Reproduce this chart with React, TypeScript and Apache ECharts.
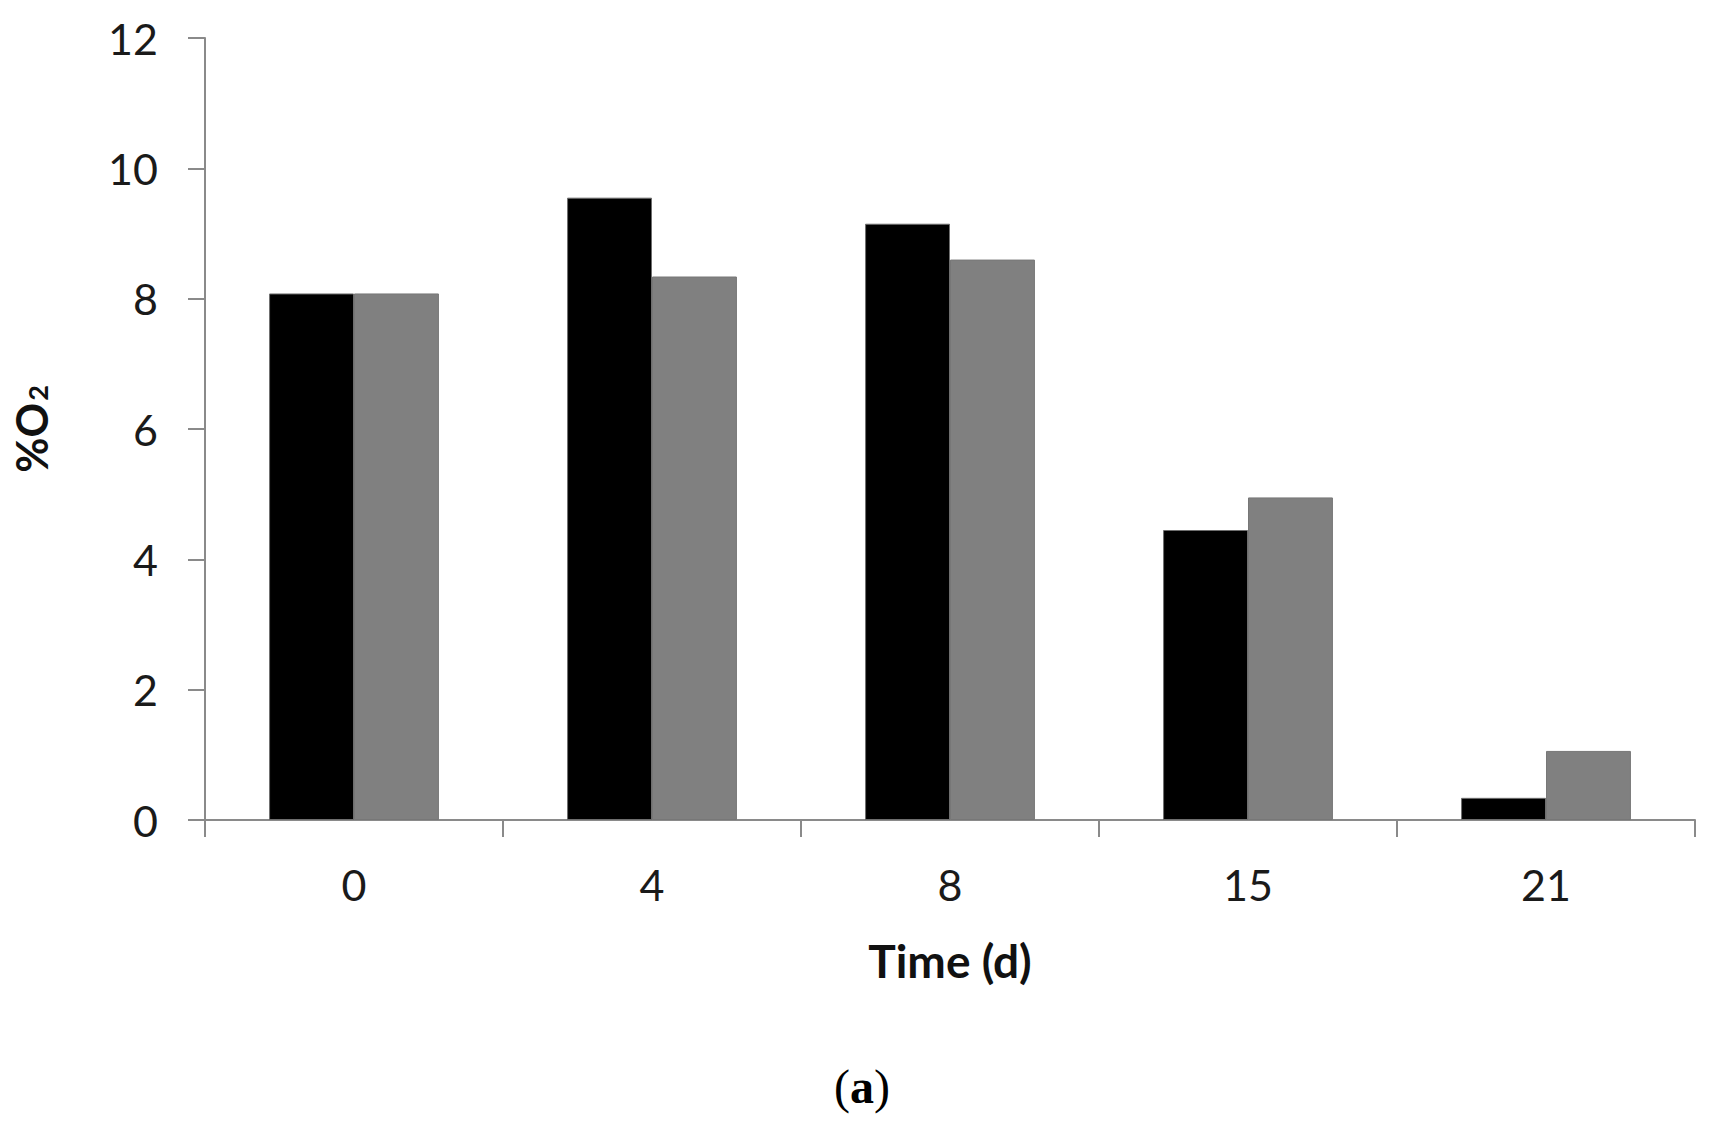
import React, { useEffect, useRef } from "react";
import * as echarts from "echarts";

const categories = ["0", "4", "8", "15", "21"];
const seriesBlack = [8.08, 9.55, 9.15, 4.45, 0.34];
const seriesGray = [8.08, 8.34, 8.6, 4.95, 1.06];
const yTicks = { min: 0, max: 12, interval: 2 };

const FONT = "Lato, 'Open Sans', sans-serif";
const AXIS_COLOR = "#8a8a8a";

export default function App() {
  const ref = useRef<HTMLDivElement>(null);
  useEffect(() => {
    document.body.style.margin = "0";
    const chart = echarts.init(ref.current!, null, { renderer: "svg" });
    chart.setOption({
      animation: false,
      backgroundColor: "#ffffff",
      grid: { left: 205, right: 14, top: 38, bottom: 305, containLabel: false, outerBoundsMode: "none" },
      xAxis: {
        type: "category",
        data: categories,
        boundaryGap: true,
        name: "Time (d)",
        nameLocation: "middle",
        nameGap: 117,
        nameTextStyle: { fontFamily: FONT, fontSize: 46, fontWeight: "bold", color: "#111" },
        axisLine: { show: true, lineStyle: { color: AXIS_COLOR, width: 2 } },
        axisTick: { show: true, length: 17, alignWithLabel: false, lineStyle: { color: AXIS_COLOR, width: 2 } },
        axisLabel: { fontFamily: FONT, fontSize: 43, color: "#1a1a1a", margin: 43 },
        splitLine: { show: false },
      },
      yAxis: {
        type: "value",
        min: yTicks.min,
        max: yTicks.max,
        interval: yTicks.interval,
        name: "{m|%O}{s|2}",
        nameLocation: "middle",
        nameGap: 154,
        nameTextStyle: {
          rich: {
            m: { fontFamily: FONT, fontSize: 43, fontWeight: "bold", color: "#111", lineHeight: 40, verticalAlign: "middle" },
            s: { fontFamily: FONT, fontSize: 27, fontWeight: "bold", color: "#111", lineHeight: 12, verticalAlign: "bottom", padding: [0, 0, 0, 2] },
          },
        },
        axisLine: { show: true, lineStyle: { color: AXIS_COLOR, width: 2 } },
        axisTick: { show: true, length: 17, lineStyle: { color: AXIS_COLOR, width: 2 } },
        axisLabel: { fontFamily: FONT, fontSize: 43, color: "#1a1a1a", margin: 47 },
        splitLine: { show: false },
      },
      series: [
        {
          type: "bar",
          data: seriesBlack,
          barGap: "0%",
          barCategoryGap: "43%",
          itemStyle: { color: "#000000", borderColor: "#6e6e6e", borderWidth: 1 },
        },
        {
          type: "bar",
          data: seriesGray,
          barGap: "0%",
          barCategoryGap: "43%",
          itemStyle: { color: "#808080", borderColor: "#777777", borderWidth: 1 },
        },
      ],
      graphic: [
        {
          type: "text",
          left: 834,
          top: 1062,
          style: {
            text: "{p|(}{b|a}{p|)}",
            rich: {
              p: { fontFamily: "'Liberation Serif', 'DejaVu Serif', serif", fontSize: 48, color: "#000" },
              b: { fontFamily: "'Liberation Serif', 'DejaVu Serif', serif", fontSize: 48, fontWeight: "bold", color: "#000" },
            },
          },
        },
      ],
    });
    return () => chart.dispose();
  }, []);
  return <div ref={ref} style={{ width: 1709, height: 1125 }} />;
}
